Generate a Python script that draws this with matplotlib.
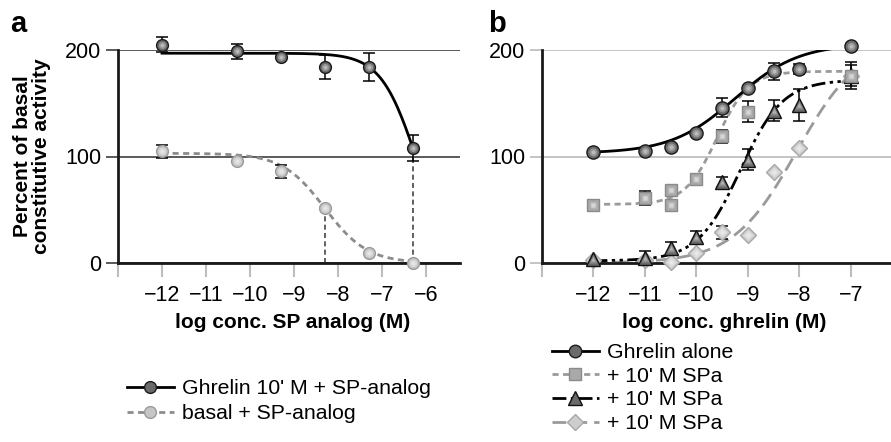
import numpy as np
import matplotlib.pyplot as plt
from matplotlib.lines import Line2D

plt.rcParams['font.family'] = ['Liberation Sans', 'DejaVu Sans']

# ---- panel a: SP-analog dose response ----
sp_logc = [-12, -10.3, -9.3, -8.3, -7.3, -6.3]
ghrelin_sp = [205, 199, 193, 184, 184, 108]
ghrelin_sp_err = [7, 7, 0, 11, 13, 12]
basal_sp = [105, 96, 86, 52, 9, 0]
basal_sp_err = [6, 0, 6, 0, 0, 0]

# sigmoid fit parameters: top, bottom, logEC50, hill slope
ghrelin_sp_fit = (197, 0, -6.22, 1.07)
basal_sp_fit = (103, 0, -8.3, 0.9)

# ---- panel b: ghrelin dose response ----
gh_logc = [-12, -11, -10.5, -10, -9.5, -9, -8.5, -8, -7]
gh_alone = [104, 105, 109, 122, 146, 164, 180, 182, 204]
gh_alone_err = [0, 0, 0, 0, 9, 0, 8, 5, 0]

sq_logc = [-12, -11, -10.5, -10.5, -10, -9.5, -9, -7]
gh_sq = [54, 61, 69, 54, 79, 119, 142, 176]
gh_sq_err = [0, 7, 0, 0, 0, 6, 10, 13]

gh_tri = [4, 5, 14, 24, 76, 97, 143, 148, 176]
gh_tri_err = [0, 6, 6, 6, 5, 10, 10, 15, 10]

gh_dia = [3, 3, 1, 9, 29, 26, 85, 108, 176]
gh_dia_err = [0, 0, 0, 0, 6, 0, 0, 0, 0]

gh_alone_fit = (206, 103, -9.25, 0.7)
gh_sq_fit = (180, 55, -9.6, 1.4)
gh_tri_fit = (172, 2, -9.15, 1.05)
gh_dia_fit = (210, 0, -8.05, 0.7)

legend_a = ["Ghrelin 10' M + SP-analog", "basal + SP-analog"]
legend_b = ["Ghrelin alone", "+ 10' M SPa", "+ 10' M SPa", "+ 10' M SPa"]


def hill(x, p, rising=True):
    top, bottom, ec50, h = p
    s = (ec50 - x) * h if rising else (x - ec50) * h
    return bottom + (top - bottom) / (1 + 10 ** s)


def points(ax, x, y, err, marker, ms, face, edge, light, z):
    x = np.asarray(x, float)
    y = np.asarray(y, float)
    err = np.asarray(err, float)
    m = err > 0
    if m.any():
        ax.errorbar(x[m], y[m], yerr=err[m], fmt='none', ecolor='black',
                    elinewidth=1.1, capsize=4.5, capthick=1.1, zorder=z - 0.5,
                    clip_on=False)
    ax.plot(x, y, ls='none', marker=marker, ms=ms, mfc=face, mec=edge,
            mew=1.0, zorder=z, clip_on=False)
    # lighter core for a shaded look
    ax.plot(x, y, ls='none', marker=marker, ms=ms * 0.6, mfc=light, mec='none',
            alpha=0.55, zorder=z + 0.1, clip_on=False)
    ax.plot(x, y, ls='none', marker=marker, ms=ms * 0.3, mfc='white', mec='none',
            alpha=0.35, zorder=z + 0.2, clip_on=False)


def style_axis(ax, xmax, ycol):
    ax.set_xlim(-13, xmax)
    ax.set_ylim(0, 200)
    for s in ['top', 'right']:
        ax.spines[s].set_visible(False)
    for s in ['left', 'bottom']:
        ax.spines[s].set_linewidth(2)
        ax.spines[s].set_color('#1a1a1a')
        ax.spines[s].set_zorder(3)
    ax.set_yticks([0, 100, 200])
    ax.grid(axis='y', color=ycol, lw=1.4, zorder=0)
    ax.tick_params(axis='y', length=9, width=1.4, color=ycol, pad=3, labelsize=15.5)
    ax.tick_params(axis='x', length=10, width=1.5, color='#bdbdbd', pad=6, labelsize=15.5)


fig = plt.figure(figsize=(8.91, 4.42), dpi=100)

# ---------------- panel a ----------------
ax = fig.add_axes([118 / 891, 1 - 263 / 442, 342 / 891, 213 / 442])
style_axis(ax, -5.227, '#5a5a5a')
ticks_a = list(range(-13, -5))
ax.set_xticks(ticks_a)
ax.set_xticklabels([''] + ['\u2212%d' % -t for t in ticks_a[1:]])

xa = np.linspace(sp_logc[0], sp_logc[-1], 200)
ax.plot(xa, hill(xa, ghrelin_sp_fit, rising=False), color='black', lw=2, zorder=2)
ax.plot(xa, hill(xa, basal_sp_fit, rising=False), color='#8c8c8c', lw=2,
        ls=(0, (2.2, 1.6)), zorder=2)
# drop lines to the axis
ax.plot([sp_logc[3], sp_logc[3]], [0, basal_sp[3]], color='#444444', lw=1.2,
        ls=(0, (3, 2)), zorder=1.5)
ax.plot([sp_logc[5], sp_logc[5]], [0, ghrelin_sp[5]], color='#444444', lw=1.2,
        ls=(0, (3, 2)), zorder=1.5)

points(ax, sp_logc, basal_sp, basal_sp_err, 'o', 8.5, '#c6c6c6', '#9a9a9a', '#ececec', 4)
points(ax, sp_logc, ghrelin_sp, ghrelin_sp_err, 'o', 8.5, '#6a6a6a', '#1a1a1a', '#bdbdbd', 5)

ax.set_xlabel('log conc. SP analog (M)', fontsize=15, fontweight='bold')
ax.xaxis.set_label_coords(0.51, -0.235)
ax.set_ylabel('Percent of basal\nconstitutive activity', fontsize=15,
              fontweight='bold', linespacing=1.0)
ax.yaxis.label.set_va('center')
ax.yaxis.set_label_coords(-0.25, 0.5)

h_a = [Line2D([], [], color='black', lw=2, marker='o', ms=8.5, mfc='#6a6a6a', mec='#1a1a1a'),
       Line2D([], [], color='#8c8c8c', lw=2, ls=(0, (2.2, 1.6)), marker='o', ms=8.5,
              mfc='#c6c6c6', mec='#9a9a9a')]
fig.legend(h_a, legend_a, loc='upper left', bbox_to_anchor=(127 / 891, 1 - 379 / 442),
           frameon=False, fontsize=15.3, handlelength=2.2, handletextpad=0.4,
           labelspacing=0.28, borderpad=0, borderaxespad=0)

# ---------------- panel b ----------------
bx = fig.add_axes([542 / 891, 1 - 263 / 442, 349 / 891, 213 / 442])
style_axis(bx, -6.22, '#c4c4c4')
ticks_b = list(range(-13, -6))
bx.set_xticks(ticks_b)
bx.set_xticklabels([''] + ['\u2212%d' % -t for t in ticks_b[1:]])

xb = np.linspace(gh_logc[0], gh_logc[-1], 200)
bx.plot(xb, hill(xb, gh_dia_fit), color='#9a9a9a', lw=2, ls=(0, (5, 2.5)), zorder=2)
bx.plot(xb, hill(xb, gh_tri_fit), color='black', lw=2,
        ls=(0, (5, 1.6, 1.2, 1.6, 1.2, 1.6)), zorder=2.1)
bx.plot(xb, hill(xb, gh_sq_fit), color='#9a9a9a', lw=2, ls=(0, (2.2, 1.6)), zorder=2.2)
bx.plot(xb, hill(xb, gh_alone_fit), color='black', lw=2, zorder=2.3)

points(bx, gh_logc, gh_dia, gh_dia_err, 'D', 8, '#cdcdcd', '#a8a8a8', '#ededed', 4)
points(bx, gh_logc, gh_tri, gh_tri_err, '^', 10, '#6a6a6a', '#111111', '#a8a8a8', 5)
points(bx, sq_logc, gh_sq, gh_sq_err, 's', 8, '#a9a9a9', '#8a8a8a', '#d2d2d2', 6)
points(bx, gh_logc, gh_alone, gh_alone_err, 'o', 9.5, '#6a6a6a', '#1a1a1a', '#bdbdbd', 7)

bx.set_xlabel('log conc. ghrelin (M)', fontsize=15, fontweight='bold')
bx.xaxis.set_label_coords(0.522, -0.235)

h_b = [Line2D([], [], color='black', lw=2, marker='o', ms=9, mfc='#6a6a6a', mec='#1a1a1a'),
       Line2D([], [], color='#9a9a9a', lw=2, ls=(0, (2.2, 1.6)), marker='s', ms=8,
              mfc='#a9a9a9', mec='#8a8a8a'),
       Line2D([], [], color='black', lw=2, ls=(0, (5, 1.6, 1.2, 1.6)), marker='^', ms=10,
              mfc='#6a6a6a', mec='#111111'),
       Line2D([], [], color='#9a9a9a', lw=2, ls=(0, (5, 2.5)), marker='D', ms=8,
              mfc='#cdcdcd', mec='#a8a8a8')]
fig.legend(h_b, legend_b, loc='upper left', bbox_to_anchor=(552 / 891, 1 - 343 / 442),
           frameon=False, fontsize=15.3, handlelength=2.2, handletextpad=0.4,
           labelspacing=0.22, borderpad=0, borderaxespad=0)

fig.text(10 / 891, 1 - 32 / 442, 'a', fontsize=21, fontweight='bold', va='baseline')
fig.text(488 / 891, 1 - 32 / 442, 'b', fontsize=21, fontweight='bold', va='baseline')

fig.savefig('out.png', dpi=100)
